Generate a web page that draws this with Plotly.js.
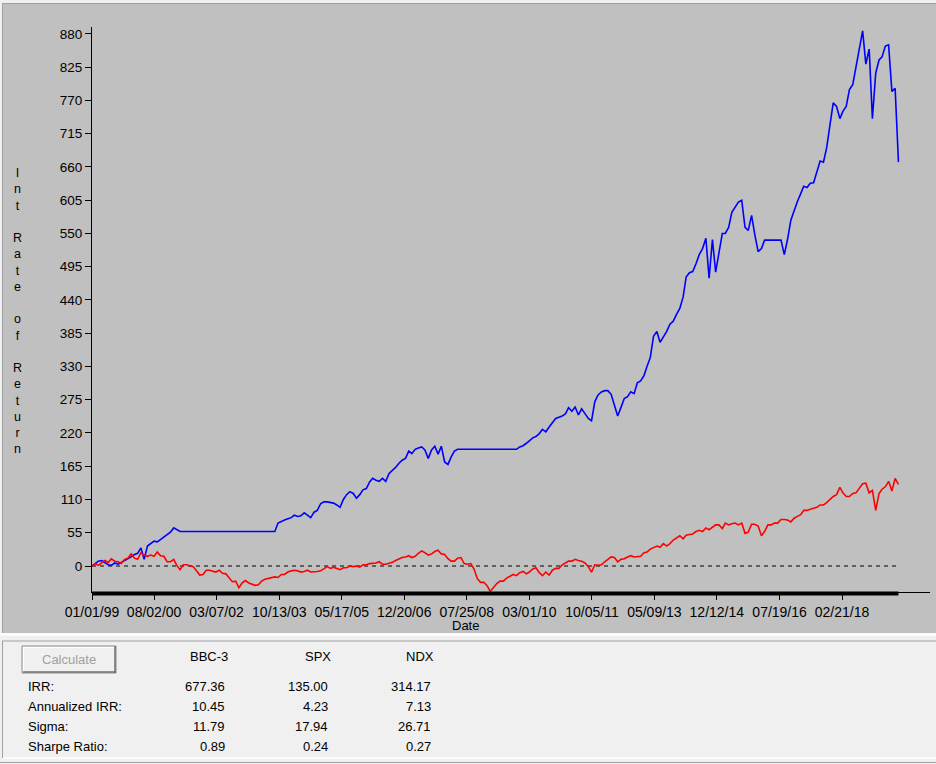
<!DOCTYPE html>
<html>
<head>
<meta charset="utf-8">
<script src="https://cdn.plot.ly/plotly-3.0.1.min.js"></script>
<style>
  html, body { margin: 0; padding: 0; background: #c0c0c0; }
  #chart { width: 936px; height: 764px; }
</style>
</head>
<body>
<div id="chart"></div>
<script>
// monthly samples, Jan 1999 .. Aug 2019
const months = [
  '1999-01','1999-02','1999-03','1999-04','1999-05','1999-06','1999-07','1999-08','1999-09','1999-10','1999-11','1999-12',
  '2000-01','2000-02','2000-03','2000-04','2000-05','2000-06','2000-07','2000-08','2000-09','2000-10','2000-11','2000-12',
  '2001-01','2001-02','2001-03','2001-04','2001-05','2001-06','2001-07','2001-08','2001-09','2001-10','2001-11','2001-12',
  '2002-01','2002-02','2002-03','2002-04','2002-05','2002-06','2002-07','2002-08','2002-09','2002-10','2002-11','2002-12',
  '2003-01','2003-02','2003-03','2003-04','2003-05','2003-06','2003-07','2003-08','2003-09','2003-10','2003-11','2003-12',
  '2004-01','2004-02','2004-03','2004-04','2004-05','2004-06','2004-07','2004-08','2004-09','2004-10','2004-11','2004-12',
  '2005-01','2005-02','2005-03','2005-04','2005-05','2005-06','2005-07','2005-08','2005-09','2005-10','2005-11','2005-12',
  '2006-01','2006-02','2006-03','2006-04','2006-05','2006-06','2006-07','2006-08','2006-09','2006-10','2006-11','2006-12',
  '2007-01','2007-02','2007-03','2007-04','2007-05','2007-06','2007-07','2007-08','2007-09','2007-10','2007-11','2007-12',
  '2008-01','2008-02','2008-03','2008-04','2008-05','2008-06','2008-07','2008-08','2008-09','2008-10','2008-11','2008-12',
  '2009-01','2009-02','2009-03','2009-04','2009-05','2009-06','2009-07','2009-08','2009-09','2009-10','2009-11','2009-12',
  '2010-01','2010-02','2010-03','2010-04','2010-05','2010-06','2010-07','2010-08','2010-09','2010-10','2010-11','2010-12',
  '2011-01','2011-02','2011-03','2011-04','2011-05','2011-06','2011-07','2011-08','2011-09','2011-10','2011-11','2011-12',
  '2012-01','2012-02','2012-03','2012-04','2012-05','2012-06','2012-07','2012-08','2012-09','2012-10','2012-11','2012-12',
  '2013-01','2013-02','2013-03','2013-04','2013-05','2013-06','2013-07','2013-08','2013-09','2013-10','2013-11','2013-12',
  '2014-01','2014-02','2014-03','2014-04','2014-05','2014-06','2014-07','2014-08','2014-09','2014-10','2014-11','2014-12',
  '2015-01','2015-02','2015-03','2015-04','2015-05','2015-06','2015-07','2015-08','2015-09','2015-10','2015-11','2015-12',
  '2016-01','2016-02','2016-03','2016-04','2016-05','2016-06','2016-07','2016-08','2016-09','2016-10','2016-11','2016-12',
  '2017-01','2017-02','2017-03','2017-04','2017-05','2017-06','2017-07','2017-08','2017-09','2017-10','2017-11','2017-12',
  '2018-01','2018-02','2018-03','2018-04','2018-05','2018-06','2018-07','2018-08','2018-09','2018-10','2018-11','2018-12',
  '2019-01','2019-02','2019-03','2019-04','2019-05','2019-06','2019-07','2019-08'
];

// BBC-3, cumulative return in % (blue)
const bbcReturn = [
  0, 4, 8, 9, 6, 2, 1, 5, 3, 6, 8, 12,
  15, 19, 21, 30, 11, 33, 37, 41, 40, 44, 47, 51,
  56, 63, 60, 57, 57, 57, 57, 57, 57, 57, 57, 57,
  57, 57, 57, 57, 57, 57, 57, 57, 57, 57, 57, 57,
  57, 57, 57, 57, 57, 57, 57, 57, 57, 71, 74, 76,
  78, 80, 84, 82, 83, 88, 84, 80, 89, 92, 103, 106,
  106, 105, 104, 101, 97, 110, 118, 123, 120, 112, 118, 126,
  128, 139, 145, 142, 140, 145, 140, 153, 158, 163, 170, 175,
  178, 190, 186, 193, 195, 197, 192, 178, 192, 198, 185, 198,
  172, 168, 180, 190, 193, 193, 193, 193, 193, 193, 193, 193,
  193, 193, 193, 193, 193, 193, 193, 193, 193, 193, 193, 197,
  199, 203, 207, 212, 214, 219, 226, 222, 230, 236, 244, 246,
  248, 252, 262, 256, 263, 250, 260, 252, 244, 240, 272, 283,
  288, 290, 290, 284, 266, 248, 262, 277, 280, 288, 285, 303,
  306, 315, 330, 345, 380, 388, 370, 378, 388, 400, 405, 416,
  426, 445, 478, 485, 487, 500, 515, 525, 542, 476, 540, 486,
  518, 550, 550, 560, 585, 593, 602, 605, 560, 555, 580, 548,
  520, 525, 539, 539, 539, 539, 539, 539, 515, 540, 572, 588,
  603, 616, 628, 626, 633, 634, 650, 670, 668, 692, 730, 766,
  760, 740, 752, 760, 788, 796, 825, 855, 885, 830, 855, 740,
  815, 837, 842, 860, 862, 785, 790, 668
];

// SPX, cumulative return in % (red)
const spxReturn = [
  0, 4, 1, 5, 9, 6, 12, 8, 7, 4, 11, 13,
  20, 13, 11, 22, 18, 16, 18, 16, 23, 17, 16, 7,
  7, 11, 1, -6, 2, 2, 0, -1, -8, -15, -14, -7,
  -7, -8, -10, -7, -12, -13, -19, -26, -25, -36, -28, -24,
  -28, -30, -32, -31, -25, -22, -21, -19, -18, -19, -14, -14,
  -10, -8, -7, -8, -10, -9, -7, -10, -10, -9, -8, -4,
  -1, -4, -2, -4, -6, -3, -3, 0, -1, 0, -2, 2,
  2, 4, 4, 5, 7, 3, 3, 4, 6, 9, 12, 14,
  15, 17, 14, 16, 21, 25, 22, 18, 20, 24, 26, 20,
  19, 12, 8, 8, 13, 14, 4, 3, 4, -5, -21, -27,
  -27, -33, -42, -35, -29, -25, -25, -20, -17, -14, -16, -11,
  -9, -13, -10, -5, -3, -11, -16, -10, -15, -7, -4, -4,
  2, 5, 8, 8, 11, 9, 8, 5, -1, -10, 2, 1,
  2, 7, 11, 15, 14, 7, 11, 12, 15, 17, 15, 15,
  16, 22, 23, 28, 30, 33, 31, 37, 33, 37, 43, 47,
  50, 45, 51, 52, 53, 57, 59, 57, 63, 60, 64, 68,
  68, 62, 71, 68, 70, 71, 68, 71, 54, 56, 69, 69,
  66, 50, 57, 68, 68, 71, 71, 77, 77, 76, 73, 79,
  82, 85, 92, 92, 94, 96, 97, 101, 101, 105, 110, 115,
  118, 130, 121, 115, 115, 120, 121, 129, 136, 137, 121, 125,
  92, 120, 127, 131, 140, 124, 145, 135
];

const tickDates = ['1999-01-01', '2000-08-02', '2002-03-07', '2003-10-13', '2005-05-17', '2006-12-20', '2008-07-25',
  '2010-03-01', '2011-10-05', '2013-05-09', '2014-12-12', '2016-07-19', '2018-02-21'];
const tickLabels = ['01/01/99', '08/02/00', '03/07/02', '10/13/03', '05/17/05', '12/20/06', '07/25/08',
  '03/01/10', '10/05/11', '05/09/13', '12/12/14', '07/19/16', '02/21/18'];

const seriesNames = ['BBC-3', 'SPX', 'NDX'];
const statNames = ['IRR:', 'Annualized IRR:', 'Sigma:', 'Sharpe Ratio:'];
const bbcStats = ['677.36', '10.45', '11.79', '0.89'];
const spxStats = ['135.00', '4.23', '17.94', '0.24'];
const ndxStats = ['314.17', '7.13', '26.71', '0.27'];

// page pixels -> paper coords (plot area is x 92..930, y 27..592)
const PX = p => (p - 92) / 838;
const PY = p => (592 - p) / 565;

const FONT = 'Liberation Sans, Arial, sans-serif';
const first = months[0];
const last = months[months.length - 1];

const traces = [
  { x: months, y: bbcReturn, type: 'scatter', mode: 'lines', name: 'BBC-3',
    line: { color: '#0000ff', width: 1.6 } },
  { x: months, y: spxReturn, type: 'scatter', mode: 'lines', name: 'SPX',
    line: { color: '#ff0000', width: 1.6 } }
];

function hline(x0, x1, y, color, width) {
  return { type: 'line', xref: 'paper', yref: 'paper', x0: PX(x0), x1: PX(x1), y0: PY(y), y1: PY(y),
    line: { color: color, width: width } };
}
function vline(x, y0, y1, color, width) {
  return { type: 'line', xref: 'paper', yref: 'paper', x0: PX(x), x1: PX(x), y0: PY(y0), y1: PY(y1),
    line: { color: color, width: width } };
}

const shapes = [
  // window frame bits
  { type: 'rect', xref: 'paper', yref: 'paper', x0: PX(0), x1: PX(936), y0: PY(3), y1: PY(0),
    fillcolor: '#f0f0f0', line: { width: 0 }, layer: 'below' },
  { type: 'rect', xref: 'paper', yref: 'paper', x0: PX(0), x1: PX(2), y0: PY(633), y1: PY(0),
    fillcolor: '#f0f0f0', line: { width: 0 }, layer: 'below' },
  hline(2, 936, 3.5, '#a0a0a0', 1),
  vline(2.5, 3, 633, '#a0a0a0', 1),
  // lower panel
  { type: 'rect', xref: 'paper', yref: 'paper', x0: PX(0), x1: PX(936), y0: PY(764), y1: PY(633),
    fillcolor: '#f0f0f0', line: { width: 0 }, layer: 'below' },
  hline(0, 936, 634.5, '#ffffff', 2),
  hline(2, 936, 641, '#a0a0a0', 1),
  vline(2.5, 641, 758, '#a0a0a0', 1),
  hline(3, 936, 758, '#ffffff', 1.5),
  hline(0, 936, 762.5, '#a0a0a0', 1),
  // disabled button
  { type: 'rect', xref: 'paper', yref: 'paper', x0: PX(22), x1: PX(116), y0: PY(673), y1: PY(646),
    fillcolor: '#f0f0f0', line: { color: '#8c8c8c', width: 1 } },
  hline(23, 115, 647.5, '#ffffff', 1),
  vline(23.5, 647, 672, '#ffffff', 1),
  hline(23, 116, 672, '#6e6e6e', 1.5),
  vline(115, 646, 673, '#6e6e6e', 1.5),
  // dashed zero line over the data span
  { type: 'line', xref: 'x', yref: 'y', x0: first, x1: last, y0: 0, y1: 0,
    line: { color: '#000000', width: 1, dash: '4px,4px' }, layer: 'below' },
  // heavy bar along the x axis over the data span
  { type: 'line', xref: 'x', yref: 'paper', x0: first, x1: last, y0: -0.0025, y1: -0.0025,
    line: { color: '#000000', width: 4 } }
];

const annotations = [];
function note(text, x, y, xanchor, size, color) {
  annotations.push({ text: text, xref: 'paper', yref: 'paper', x: PX(x), y: PY(y),
    xanchor: xanchor, yanchor: 'middle', showarrow: false,
    font: { family: FONT, size: size, color: color || '#000000' } });
}

// stacked vertical y title
const yTitle = 'Int Rate of Return'.split('').map(c => c === ' ' ? '\u00a0' : c).join('<br>');
note(yTitle, 17, 311, 'center', 12.5);
note('Date', 465, 625, 'center', 13);

note('Calculate', 69, 659, 'center', 13, '#a0a0a0');
const colRight = [230, 333, 436];
const valRight = [227, 330, 433];
const rowY = [686, 706.5, 726.5, 746.5];
const colStats = [bbcStats, spxStats, ndxStats];
seriesNames.forEach((s, i) => note(s, colRight[i], 656, 'right', 13));
statNames.forEach((s, r) => note(s, 26, rowY[r], 'left', 13));
colStats.forEach((vals, i) => vals.forEach((v, r) => note(v, valRight[i], rowY[r], 'right', 13)));

const layout = {
  width: 936, height: 764,
  margin: { l: 92, r: 6, t: 27, b: 172, pad: 0 },
  paper_bgcolor: '#c0c0c0',
  plot_bgcolor: '#c0c0c0',
  showlegend: false,
  hovermode: false,
  font: { family: FONT, size: 13, color: '#000000' },
  xaxis: {
    type: 'date', range: ['1999-01-01', '2020-05-21'],
    tickmode: 'array', tickvals: tickDates, ticktext: tickLabels,
    tickfont: { family: FONT, size: 14, color: '#000000' },
    showgrid: false, zeroline: false,
    showline: true, linecolor: '#000000', linewidth: 1,
    ticks: 'outside', ticklen: 7, tickcolor: '#000000', tickwidth: 1
  },
  yaxis: {
    range: [-43, 891.5], tick0: 0, dtick: 55,
    tickfont: { family: FONT, size: 13.5, color: '#000000' },
    showgrid: false, zeroline: false,
    showline: true, linecolor: '#000000', linewidth: 1,
    ticks: 'outside', ticklen: 6, tickcolor: '#000000', tickwidth: 1
  },
  shapes: shapes,
  annotations: annotations
};

Plotly.newPlot('chart', traces, layout, { staticPlot: true, displayModeBar: false });
</script>
</body>
</html>
